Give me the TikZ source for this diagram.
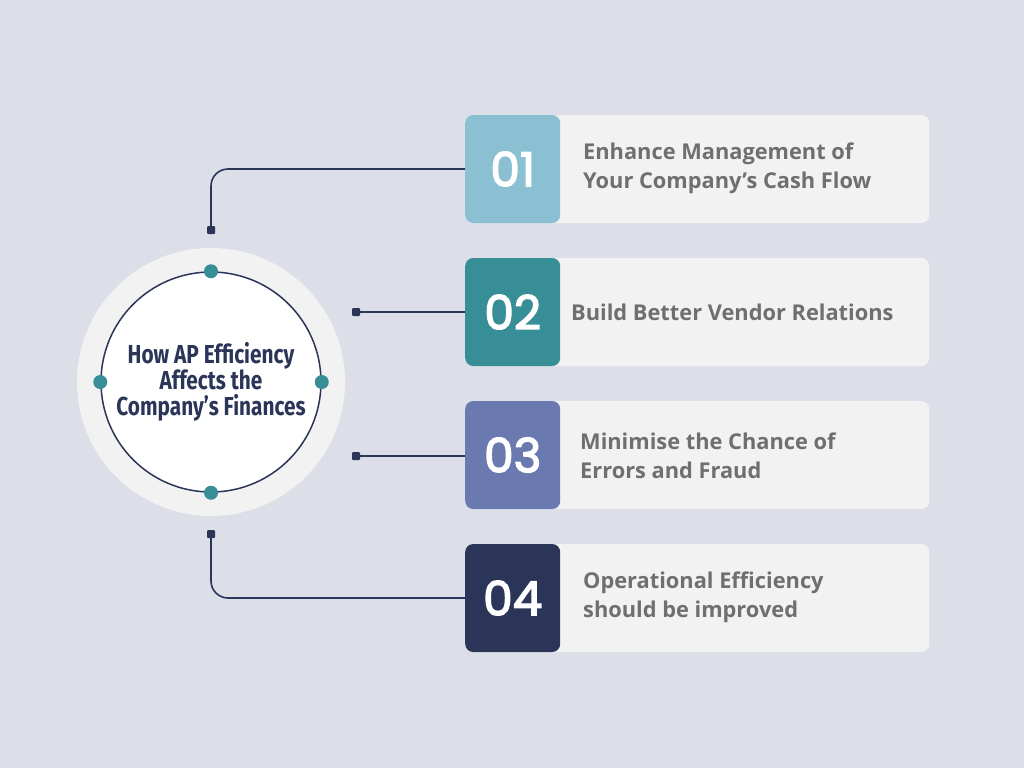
\documentclass[tikz,border=0pt]{standalone}
\usepackage{fontspec}
\setmainfont{Open Sans}
\newfontfamily\numfont[FakeBold=3]{Poppins}
\newfontfamily\titlefont[FakeStretch=0.8]{Fira Sans}
\usetikzlibrary{positioning}

\definecolor{bgcol}{HTML}{DCDFE8}
\definecolor{cardcol}{HTML}{F2F2F3}
\definecolor{navy}{HTML}{2B3558}
\definecolor{tealc}{HTML}{388E96}
\definecolor{skyb}{HTML}{8BC0D3}
\definecolor{slate}{HTML}{6A7AB0}
\definecolor{txtgray}{HTML}{6F6F70}

\tikzset{
  card/.style={fill=cardcol, rounded corners=8pt, minimum width=464pt, minimum height=108pt, anchor=west, inner sep=0pt},
  numbox/.style={rounded corners=8pt, minimum width=95pt, minimum height=108pt, anchor=west, inner sep=0pt, text=white, font=\numfont\fontsize{47}{47}\selectfont},
  cardtext/.style={anchor=west, align=left, inner sep=0pt, text=txtgray, font=\bfseries\fontsize{21.8}{29}\selectfont},
  dot/.style={circle, fill=tealc, minimum size=14pt, inner sep=0pt},
  endsq/.style={fill=navy, minimum size=8pt, inner sep=0pt, rounded corners=1pt},
  link/.style={draw=navy, line width=1.6pt},
}

\begin{document}
\begin{tikzpicture}[x=1pt,y=-1pt]
\fill[bgcol] (0,0) rectangle (1024,768);
\useasboundingbox (0,0) rectangle (1024,768);
%\draw (0,0) grid[step=100] (1024,768);

% hub
\node[circle, fill=cardcol, minimum size=268pt] (ring) at (211,382) {};
\node[circle, draw=navy, line width=1.5pt, fill=white, minimum size=220pt, align=center, text=navy,
  font=\titlefont\bfseries\fontsize{26}{26}\selectfont] (hub) at (211,382) {How AP Efficiency\\Affects the\\Company’s Finances};
\node[dot] (dn) at (hub.north) {};
\node[dot] (ds) at (hub.south) {};
\node[dot] (dw) at (hub.west) {};
\node[dot] (de) at (hub.east) {};

% cards
\node[card] (c1) at (465,169) {};
\node[card] (c2) at (465,312) {};
\node[card] (c3) at (465,455) {};
\node[card] (c4) at (465,598) {};
\node[numbox, fill=skyb] (n1) at (465,169) {01};
\node[numbox, fill=tealc] (n2) at (465,312) {02};
\node[numbox, fill=slate] (n3) at (465,455) {03};
\node[numbox, fill=navy] (n4) at (465,598) {04};
\node[cardtext] (t1) at (583,168) {Enhance Management of\\Your Company’s Cash Flow};
\node[cardtext] (t2) at (571,312) {Build Better Vendor Relations};
\node[cardtext] (t3) at (580,456) {Minimise the Chance of\\Errors and Fraud};
\node[cardtext] (t4) at (583,597) {Operational Efficiency\\should be improved};

% links
\node[endsq] (s1) at (211,230) {};
\node[endsq] (s2) at (356,312) {};
\node[endsq] (s3) at (356,456) {};
\node[endsq] (s4) at (211,534) {};
\draw[link, rounded corners=17pt] (n1.west) -| (s1);
\draw[link] (n2.west) -- (s2);
\draw[link] (n3.west |- s3) -- (s3);
\draw[link, rounded corners=17pt] (n4.west) -| (s4);
\end{tikzpicture}
\end{document}
